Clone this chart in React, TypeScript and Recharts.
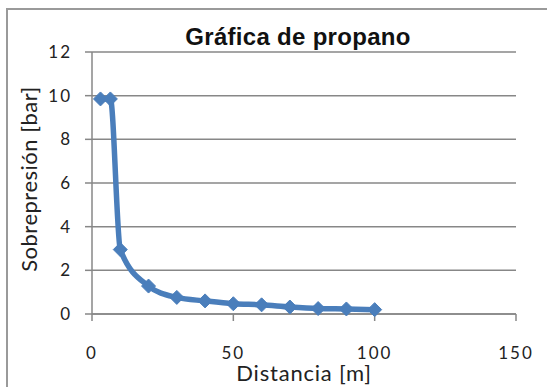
import React from 'react';
import { LineChart, Line, XAxis, YAxis, CartesianGrid } from 'recharts';

// Overpressure (bar) against distance (m) for a propane blast
const distances = [3, 6.5, 10, 20, 30, 40, 50, 60, 70, 80, 90, 100];
const overpressure = [9.85, 9.85, 2.95, 1.28, 0.76, 0.6, 0.47, 0.42, 0.32, 0.25, 0.23, 0.2];
const xTicks = [0, 50, 100, 150];
const yTicks = [0, 2, 4, 6, 8, 10, 12];

const chartTitle = 'Gráfica de propano';
const xTitle = 'Distancia [m]';
const yTitle = 'Sobrepresión [bar]';

const data = distances.map((d, i) => ({ distancia: d, sobrepresion: overpressure[i] }));

const LINE_COLOR = '#4a7ebb';
const AXIS_COLOR = '#878787';
const FONT = 'Lato, "Open Sans", sans-serif';

const Diamond = (props: any) => {
  const { cx, cy, index } = props;
  if (cx == null || cy == null) return null;
  const r = 7;
  return (
    <polygon
      key={`d-${index}`}
      points={`${cx},${cy - r} ${cx + r},${cy} ${cx},${cy + r} ${cx - r},${cy}`}
      fill={LINE_COLOR}
      stroke={LINE_COLOR}
      strokeWidth={1}
    />
  );
};

const tickStyle = { fill: '#222', fontSize: 17, fontFamily: FONT, letterSpacing: 2 };

export default function App() {
  return (
    <div style={{ position: 'absolute', left: 0, top: 0, width: 547, height: 387, background: '#fff', overflow: 'hidden' }}>
      <div
        style={{
          position: 'absolute',
          left: 6,
          top: 8,
          width: 560,
          height: 400,
          borderLeft: '2px solid #9a9a9a',
          borderTop: '2px solid #9a9a9a',
        }}
      />
      <LineChart
        width={547}
        height={387}
        data={data}
        margin={{ top: 52, right: 31, bottom: 0, left: 0 }}
        style={{ position: 'absolute', left: 0, top: 0 }}
      >
        <CartesianGrid vertical={false} stroke={AXIS_COLOR} strokeWidth={1.5} />
        <XAxis
          dataKey="distancia"
          type="number"
          domain={[0, 150]}
          ticks={xTicks}
          height={73}
          tickSize={7}
          tickMargin={26}
          axisLine={{ stroke: AXIS_COLOR, strokeWidth: 1.5 }}
          tickLine={{ stroke: AXIS_COLOR, strokeWidth: 1.5 }}
          tick={tickStyle}
        />
        <YAxis
          type="number"
          domain={[0, 12]}
          ticks={yTicks}
          width={92}
          tickSize={7}
          tickMargin={13}
          axisLine={{ stroke: AXIS_COLOR, strokeWidth: 1.5 }}
          tickLine={{ stroke: AXIS_COLOR, strokeWidth: 1.5 }}
          tick={tickStyle}
        />
        <Line
          dataKey="sobrepresion"
          type="monotone"
          stroke={LINE_COLOR}
          strokeWidth={5.5}
          dot={Diamond}
          activeDot={false}
          isAnimationActive={false}
        />
      </LineChart>
      <div
        style={{
          position: 'absolute',
          left: 298,
          top: 37,
          transform: 'translate(-50%, -50%)',
          whiteSpace: 'nowrap',
          fontFamily: '"Liberation Sans", Arial, sans-serif',
          fontWeight: 'bold',
          fontSize: 24,
          letterSpacing: 0.3,
          color: '#111',
        }}
      >
        {chartTitle}
      </div>
      <div
        style={{
          position: 'absolute',
          left: 304,
          top: 372,
          transform: 'translate(-50%, -50%)',
          whiteSpace: 'nowrap',
          fontFamily: FONT,
          fontSize: 22,
          letterSpacing: 0.8,
          color: '#222',
        }}
      >
        {xTitle}
      </div>
      <div
        style={{
          position: 'absolute',
          left: 28,
          top: 179,
          transform: 'translate(-50%, -50%) rotate(-90deg)',
          whiteSpace: 'nowrap',
          fontFamily: FONT,
          fontSize: 22,
          letterSpacing: 0.5,
          color: '#222',
        }}
      >
        {yTitle}
      </div>
    </div>
  );
}
